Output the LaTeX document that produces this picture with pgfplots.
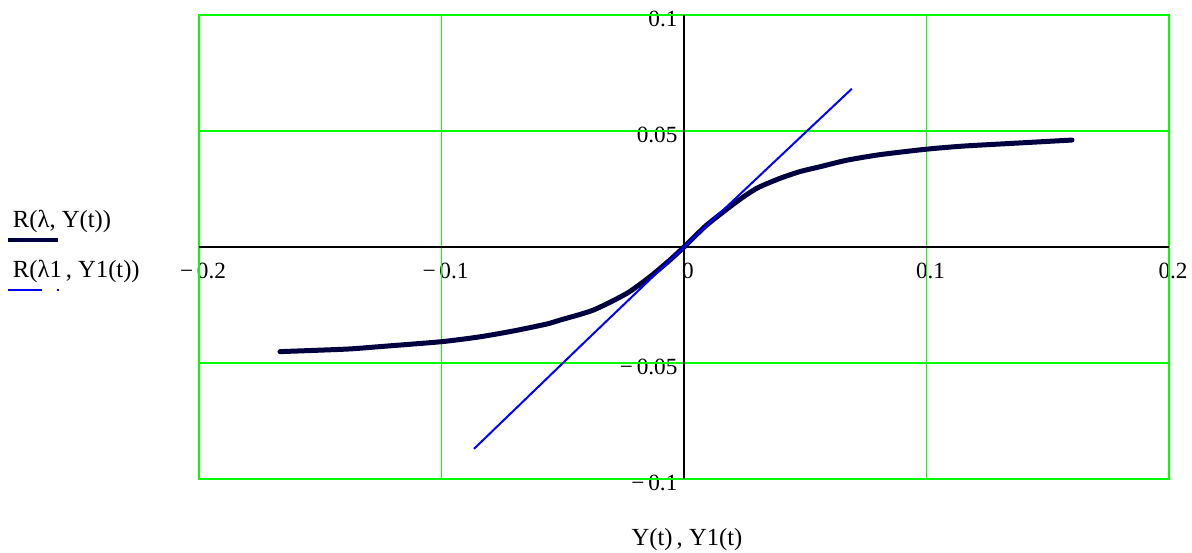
\documentclass[border=0pt]{standalone}
\usepackage{pgfplots}
\pgfplotsset{compat=1.18}
\usepackage{fontspec}
\setmainfont{Liberation Serif}
\definecolor{navy}{RGB}{0,0,64}
\definecolor{mcgreen}{RGB}{0,255,0}
\definecolor{mcblue}{RGB}{0,0,255}
\begin{document}
\fontsize{12.3}{14}\selectfont
\begin{tikzpicture}
\useasboundingbox (-99.5pt,-36.5pt) rectangle (496.5pt,239.5pt);
\begin{axis}[
  at={(0pt,0pt)}, anchor=south west,
  width=485pt, height=232pt, scale only axis,
  xmin=-0.2, xmax=0.2, ymin=-0.1, ymax=0.1,
  axis lines=middle,
  axis line style={-, black, line width=0.6pt},
  hide obscured x ticks=false,
  hide obscured y ticks=false,
  xtick={-0.2,-0.1,0,0.1,0.2},
  xticklabels={−\,0.2,−\,0.1,0,0.1,0.2},
  ytick={-0.1,-0.05,0.05,0.1},
  yticklabels={−\,0.1,−\,0.05,0.05,0.1},
  xtick align=center,
  ytick align=inside,
  major tick length=5pt,
  tick style={black, line width=0.6pt},
  x tick label style={anchor=north, xshift=2pt, yshift=-1pt, font=\fontsize{11.6}{13}\selectfont},
  y tick label style={anchor=east, yshift=-2pt, xshift=1pt, font=\fontsize{11.6}{13}\selectfont},
  xlabel={Y(t)\,, Y1(t)},
  x label style={at={(axis description cs:0.5,0)}, anchor=center, yshift=-30.5pt, xshift=1.5pt},
  clip=false,
]
\draw[mcgreen, line width=0.8pt] (axis cs:-0.1,-0.1) -- (axis cs:-0.1,0.1);
\draw[mcgreen, line width=0.8pt] (axis cs:0.1,-0.1) -- (axis cs:0.1,0.1);
\draw[mcgreen, line width=0.8pt] (axis cs:-0.2,0.05) -- (axis cs:0.2,0.05);
\draw[mcgreen, line width=0.8pt] (axis cs:-0.2,-0.05) -- (axis cs:0.2,-0.05);
\draw[mcgreen, line width=0.8pt] (rel axis cs:0,0) rectangle (rel axis cs:1,1);
\draw[black, line width=0.6pt] (axis cs:-0.2,0) -- (axis cs:0.2,0);
\draw[black, line width=0.6pt] (axis cs:0,-0.1) -- (axis cs:0,0.1);
\addplot[navy, line width=2.5pt, line join=round, line cap=round, smooth, tension=0.4] coordinates {
(-0.1666,-0.0451) (-0.139,-0.0440) (-0.1262,-0.0430) (-0.0999,-0.0408)
(-0.0841,-0.0387) (-0.0704,-0.0362) (-0.0566,-0.0332) (-0.0511,-0.0315)
(-0.0374,-0.0272) (-0.0236,-0.0200) (-0.0140,-0.0128) (-0.0058,-0.0056) (0,0)
(0.0094,0.0095) (0.0217,0.0195) (0.0300,0.0253) (0.0396,0.0296)
(0.0478,0.0325) (0.0561,0.0346) (0.0671,0.0374) (0.0808,0.0398)
(0.0994,0.0421) (0.1152,0.0435) (0.1358,0.0447) (0.160,0.0461)
};
\addplot[mcblue, line width=1pt] coordinates {
(-0.0866,-0.0870) (-0.040,-0.0400) (0,0) (0.035,0.0345) (0.0692,0.0682)
};
\end{axis}
\node[anchor=base west, inner sep=0pt] at (-93.2pt,125.5pt) {R(λ, Y(t))};
\draw[navy, line width=1.6pt] (-95.5pt,119.5pt) -- (-70.5pt,119.5pt);
\node[anchor=base west, inner sep=0pt] at (-93.2pt,101pt) {R(λ1\,, Y1(t))};
\draw[mcblue, line width=0.7pt] (-95.5pt,94.5pt) -- (-78.5pt,94.5pt);
\draw[mcblue, line width=0.7pt] (-71pt,94.5pt) -- (-70pt,94.5pt);
\end{tikzpicture}
\end{document}
